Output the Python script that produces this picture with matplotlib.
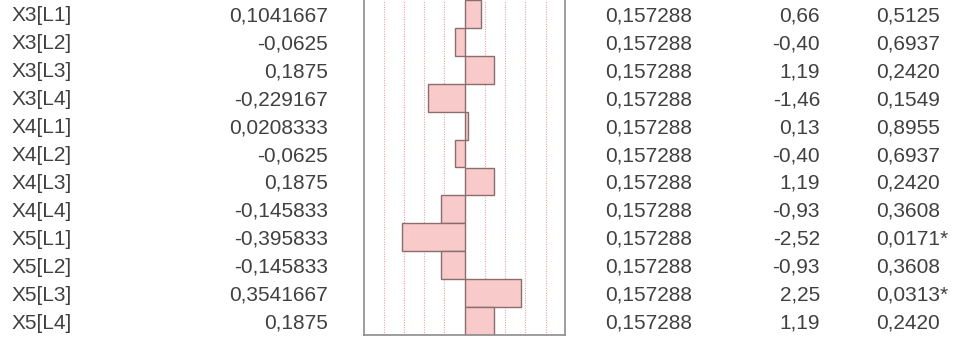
import matplotlib
matplotlib.use("Agg")
from matplotlib import pyplot as plt
from matplotlib import transforms
import numpy as np

# Parameter table values
terms = ["X3[L1]", "X3[L2]", "X3[L3]", "X3[L4]",
         "X4[L1]", "X4[L2]", "X4[L3]", "X4[L4]",
         "X5[L1]", "X5[L2]", "X5[L3]", "X5[L4]"]
estimates = ["0,1041667", "-0,0625", "0,1875", "-0,229167",
             "0,0208333", "-0,0625", "0,1875", "-0,145833",
             "-0,395833", "-0,145833", "0,3541667", "0,1875"]
std_errors = ["0,157288"] * 12
t_ratios = [0.66, -0.40, 1.19, -1.46,
            0.13, -0.40, 1.19, -0.93,
            -2.52, -0.93, 2.25, 1.19]
p_values = ["0,5125", "0,6937", "0,2420", "0,1549",
            "0,8955", "0,6937", "0,2420", "0,3608",
            "0,0171*", "0,3608", "0,0313*", "0,2420"]

W, H = 956, 345
fig = plt.figure(figsize=(W / 100, H / 100), dpi=100)
plt.rcParams['font.family'] = ['Liberation Sans', 'DejaVu Sans']

# t ratio bar box
ax = fig.add_axes([364 / W, (H - 335) / H, (565 - 364) / W, 335 / H])
n = len(terms)
rows = np.arange(n) + 0.5

# dotted reference lines
for k in [1, 2, 3, 4]:
    for s in [-1, 1]:
        ax.axvline(s * 0.81 * k, color='#eba5a5', lw=0.8, ls=(0, (1, 1.2)), zorder=1)

ax.barh(rows, t_ratios, height=1.0, left=0, color='#f9caca',
        edgecolor='#8a6e6e', linewidth=1.0, zorder=2)

ax.set_xlim(-4.02, 4.02)
ax.set_ylim(n, 0)
ax.set_xticks([])
ax.set_yticks([])
ax.spines['top'].set_visible(False)
for sp in ['left', 'right', 'bottom']:
    ax.spines[sp].set_color('#8c8c8c')
    ax.spines[sp].set_linewidth(1.2)

# text columns, x in figure pixels, y in row units
trans = transforms.blended_transform_factory(fig.transFigure, ax.transData)
txt = dict(fontsize=15, color='#404040', va='baseline', transform=trans, clip_on=False)
for i in range(n):
    y = i + 0.77
    t_str = ("%.2f" % t_ratios[i]).replace('.', ',')
    ax.text(12 / W, y, terms[i], ha='left', **txt)
    ax.text(328 / W, y, estimates[i], ha='right', **txt)
    ax.text(692 / W, y, std_errors[i], ha='right', **txt)
    ax.text(820 / W, y, t_str, ha='right', **txt)
    ax.text(876 / W, y, p_values[i], ha='left', **txt)

fig.savefig("out.png", dpi=100)
